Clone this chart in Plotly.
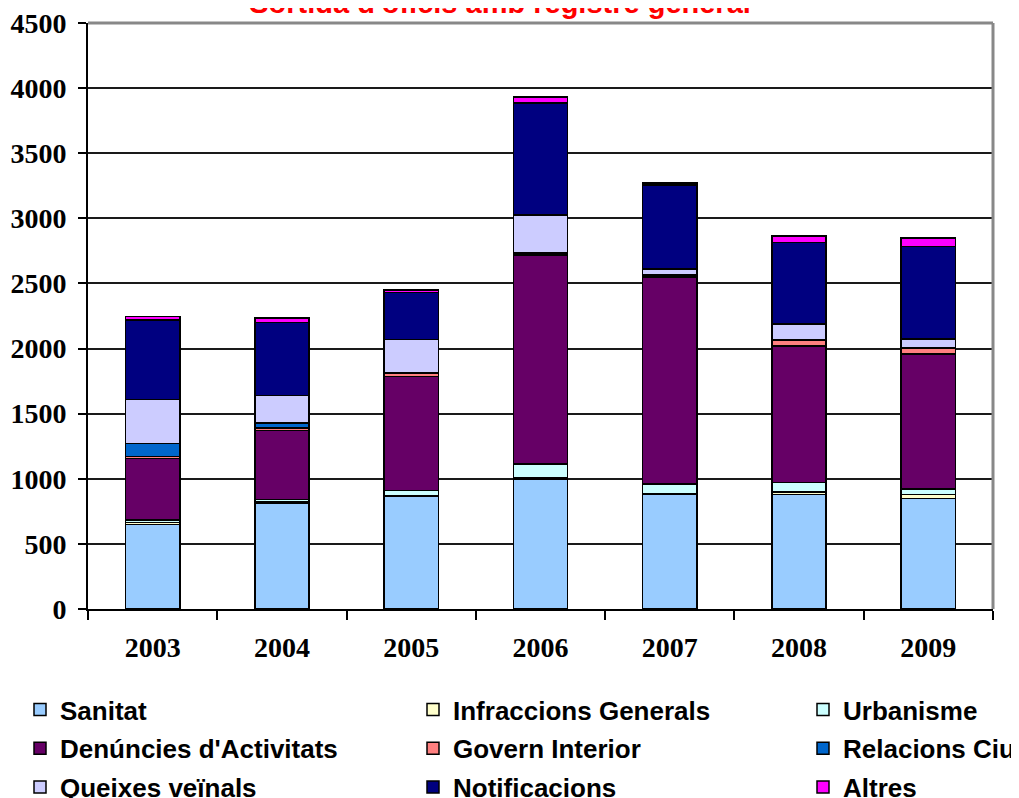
import plotly.graph_objects as go

# years on the x axis
years = ['2003', '2004', '2005', '2006', '2007', '2008', '2009']

# one list per category, stacked bottom to top
sanitat = [650, 810, 865, 1000, 880, 880, 850]
infraccions = [15, 10, 5, 5, 5, 20, 30]
urbanisme = [20, 20, 40, 110, 75, 70, 40]
denuncies = [470, 530, 875, 1600, 1590, 1050, 1040]
govern = [15, 20, 25, 10, 10, 45, 40]
relacions = [100, 40, 5, 10, 10, 5, 10]
queixes = [340, 210, 255, 290, 40, 120, 65]
notificacions = [610, 560, 360, 860, 645, 625, 710]
altres = [25, 35, 20, 45, 18, 50, 65]

# y axis ticks
y_ticks = [0, 500, 1000, 1500, 2000, 2500, 3000, 3500, 4000, 4500]

series = [
    ('Sanitat', sanitat, '#99CCFF', 'legend'),
    ('Infraccions Generals', infraccions, '#FFFFCC', 'legend2'),
    ('Urbanisme', urbanisme, '#CCFFFF', 'legend3'),
    ("Denúncies d'Activitats", denuncies, '#660066', 'legend'),
    ('Govern Interior', govern, '#FF8080', 'legend2'),
    ('Relacions Ciu', relacions, '#0066CC', 'legend3'),
    ('Queixes veïnals', queixes, '#CCCCFF', 'legend'),
    ('Notificacions', notificacions, '#000080', 'legend2'),
    ('Altres', altres, '#FF00FF', 'legend3'),
]

fig = go.Figure()

for name, values, color, leg in series:
    fig.add_trace(go.Bar(
        x=years,
        y=values,
        name=name,
        legend=leg,
        legendgroup=name,
        marker=dict(color=color, line=dict(color='black', width=1.5)),
    ))

legend_font = dict(family='Arial, Liberation Sans', size=26, color='black', weight='bold')
legend_common = dict(
    orientation='v',
    xref='container', yref='container',
    xanchor='left', yanchor='top',
    y=1 - 678 / 798,
    font=legend_font,
    traceorder='grouped',
    tracegroupgap=2,
    itemwidth=30,
    bgcolor='rgba(0,0,0,0)',
)

tick_font = dict(family='Times New Roman, Liberation Serif', size=28, color='black', weight='bold')

fig.update_layout(
    width=1019,
    height=798,
    margin=dict(l=80, r=34, t=15, b=197, autoexpand=False),
    paper_bgcolor='white',
    plot_bgcolor='white',
    barmode='stack',
    bargap=0.58,
    title=dict(
        text="Sortida d'oficis amb registre general",
        font=dict(family='Arial, Liberation Sans', size=29, color='#FF0000', weight='bold'),
        x=492 / 1019, xanchor='center',
        xref='container', yref='container',
        y=1 - 5 / 798, yanchor='bottom',
    ),
    legend=dict(legend_common, x=12 / 1019),
    legend2=dict(legend_common, x=405 / 1019),
    legend3=dict(legend_common, x=795 / 1019),
    xaxis=dict(
        type='category',
        showline=True, linecolor='black', linewidth=2,
        ticks='outside', tickson='boundaries', ticklen=9, tickwidth=2, tickcolor='black',
        ticklabelstandoff=12,
        tickangle=0,
        tickfont=tick_font,
        showgrid=False,
    ),
    yaxis=dict(
        range=[0, 4500],
        tickmode='array',
        tickvals=y_ticks,
        ticktext=[str(v) for v in y_ticks],
        showline=True, linecolor='black', linewidth=2,
        ticks='outside', ticklen=8, tickwidth=2, tickcolor='black',
        ticklabelstandoff=6,
        ticklabeloverflow='allow',
        tickfont=tick_font,
        showgrid=True, gridcolor='#1a1a1a', gridwidth=2,
        zeroline=False,
    ),
    showlegend=True,
)

# grey frame on the top and right sides of the plot area
fig.add_shape(type='line', xref='paper', yref='paper', x0=0, x1=1, y0=1, y1=1,
              line=dict(color='#888888', width=3), layer='above')
fig.add_shape(type='line', xref='paper', yref='paper', x0=1, x1=1, y0=0, y1=1,
              line=dict(color='#888888', width=3), layer='above')

fig.write_html("out.html")
